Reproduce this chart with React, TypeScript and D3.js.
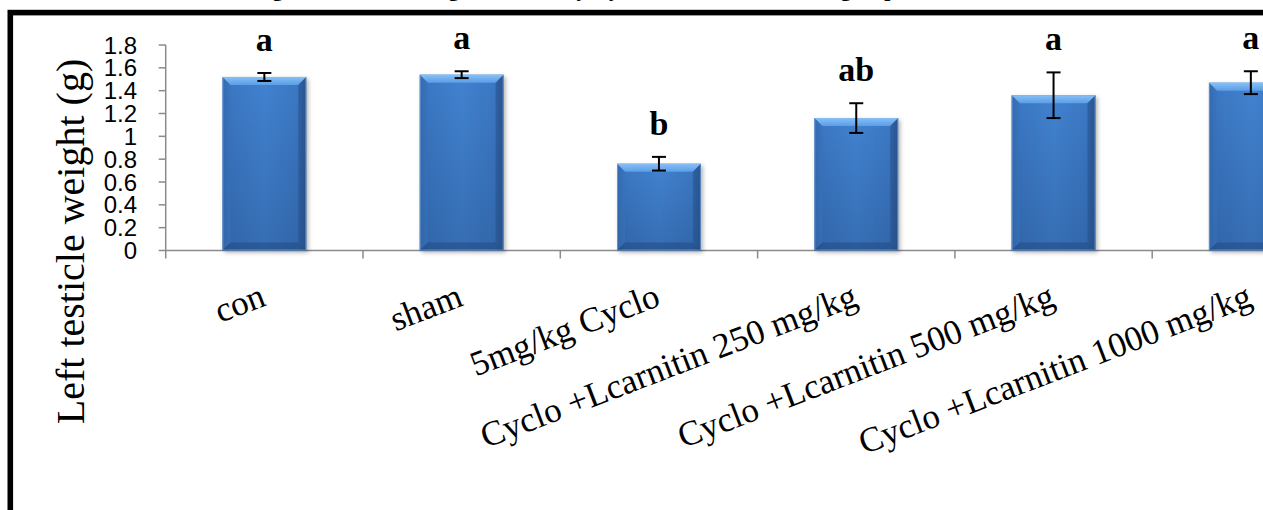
import React from "react";
import * as d3 from "d3";

// Group labels, means, standard errors and significance letters
const categories = [
  "con",
  "sham",
  "5mg/kg Cyclo",
  "Cyclo +Lcarnitin 250 mg/kg",
  "Cyclo +Lcarnitin 500 mg/kg",
  "Cyclo +Lcarnitin 1000 mg/kg",
];
const means = [1.52, 1.54, 0.76, 1.16, 1.36, 1.47];
const errors = [0.035, 0.03, 0.06, 0.13, 0.2, 0.1];
const letters = ["a", "a", "b", "ab", "a", "a"];
const yTicks = [0, 0.2, 0.4, 0.6, 0.8, 1, 1.2, 1.4, 1.6, 1.8];
const yTitle = "Left testicle weight (g)";
const figTitle = "Fig.: Left testicle weight affected by Cyclo and Lcarnitin in all groups";

const W = 1263;
const H = 510;
const plotLeft = 165.7;
const step = 197.3;
const y0 = 250.5;
const y18 = 45;

export default function App() {
  const x = d3
    .scaleBand<string>()
    .domain(categories)
    .range([plotLeft, plotLeft + step * categories.length])
    .paddingInner(0.575)
    .paddingOuter(0.2875);
  const y = d3.scaleLinear().domain([0, 1.8]).range([y0, y18]);
  const bw = x.bandwidth();
  const bev = 8;
  const gray = "#8a8a8a";
  const serif = "'Liberation Serif', 'Times New Roman', serif";

  return (
    <svg
      width={W}
      height={H}
      style={{ position: "absolute", left: 0, top: 0, background: "#fff" }}
    >
      <defs>
        <linearGradient id="barBody" x1="0" x2="1" y1="0" y2="0">
          <stop offset="0" stopColor="#2d5e9f" />
          <stop offset="0.1" stopColor="#3b78c4" />
          <stop offset="0.5" stopColor="#4282d0" />
          <stop offset="0.9" stopColor="#3b78c4" />
          <stop offset="1" stopColor="#2b5894" />
        </linearGradient>
        <linearGradient id="barShade" x1="0" x2="0" y1="0" y2="1">
          <stop offset="0" stopColor="#0a1e40" stopOpacity="0" />
          <stop offset="1" stopColor="#0a1e40" stopOpacity="0.2" />
        </linearGradient>
        <linearGradient id="barTop" x1="0" x2="0" y1="0" y2="1">
          <stop offset="0" stopColor="#86c0f6" />
          <stop offset="1" stopColor="#5c9de6" />
        </linearGradient>
        <filter id="shadow" x="-20%" y="-20%" width="140%" height="140%">
          <feDropShadow dx="2" dy="2" stdDeviation="2" floodColor="#000" floodOpacity="0.3" />
        </filter>
      </defs>

      {/* title line, mostly above the top edge */}
      <text
        x={905}
        y={-4}
        textAnchor="end"
        fontFamily={serif}
        fontWeight="bold"
        fontSize={22}
        fill="#000"
      >
        {figTitle}
      </text>

      {/* outer frame */}
      <rect x={10.3} y={12.6} width={W + 20} height={H + 20} fill="none" stroke="#000" strokeWidth={5.6} />

      {/* y axis */}
      <line x1={plotLeft} x2={plotLeft} y1={y18} y2={y0 + 8} stroke={gray} strokeWidth={1.5} />
      {yTicks.map((t) => (
        <g key={t}>
          <line x1={plotLeft - 7} x2={plotLeft} y1={y(t)} y2={y(t)} stroke={gray} strokeWidth={1.5} />
          <text
            x={137}
            y={y(t)}
            textAnchor="end"
            dominantBaseline="central"
            fontFamily="'Liberation Sans', Arial, sans-serif"
            fontSize={24}
            fill="#000"
          >
            {`${+t.toFixed(1)}`}
          </text>
        </g>
      ))}

      {/* x axis */}
      <line x1={plotLeft} x2={W} y1={y0} y2={y0} stroke={gray} strokeWidth={1.5} />
      {categories.map((c, i) => (
        <line
          key={c}
          x1={plotLeft + step * (i + 1)}
          x2={plotLeft + step * (i + 1)}
          y1={y0}
          y2={y0 + 8}
          stroke={gray}
          strokeWidth={1.5}
        />
      ))}

      {/* bars */}
      {categories.map((c, i) => {
        const x0 = x(c)!;
        const x1 = x0 + bw;
        const yt = y(means[i]);
        const yb = y0;
        return (
          <g key={c}>
            <g filter="url(#shadow)">
              <rect x={x0} y={yt} width={bw} height={yb - yt} fill="url(#barBody)" />
            </g>
            <rect x={x0} y={yt} width={bw} height={yb - yt} fill="url(#barShade)" />
            <polygon
              points={`${x0},${yt} ${x1},${yt} ${x1 - bev},${yt + bev} ${x0 + bev},${yt + bev}`}
              fill="url(#barTop)"
            />
            <polygon
              points={`${x0},${yt} ${x0 + bev},${yt + bev} ${x0 + bev},${yb - bev} ${x0},${yb}`}
              fill="#3a74bd"
              opacity={0.55}
            />
            <polygon
              points={`${x1},${yt} ${x1 - bev},${yt + bev} ${x1 - bev},${yb - bev} ${x1},${yb}`}
              fill="#28528c"
              opacity={0.55}
            />
            <polygon
              points={`${x0},${yb} ${x0 + bev},${yb - bev} ${x1 - bev},${yb - bev} ${x1},${yb}`}
              fill="#254d85"
              opacity={0.6}
            />
            <rect
              x={x0 + 0.5}
              y={yt + 0.5}
              width={bw - 1}
              height={yb - yt - 1}
              fill="none"
              stroke="#8cbcf0"
              strokeOpacity={0.5}
              strokeWidth={1}
            />
          </g>
        );
      })}

      {/* error bars */}
      {categories.map((c, i) => {
        const cx = x(c)! + bw / 2;
        const hi = y(means[i] + errors[i]);
        const lo = y(means[i] - errors[i]);
        return (
          <g key={c} stroke="#000" strokeWidth={2}>
            <line x1={cx} x2={cx} y1={hi} y2={lo} />
            <line x1={cx - 7} x2={cx + 7} y1={hi} y2={hi} />
            <line x1={cx - 7} x2={cx + 7} y1={lo} y2={lo} />
          </g>
        );
      })}

      {/* significance letters */}
      {categories.map((c, i) => (
        <text
          key={c}
          x={x(c)! + bw / 2}
          y={y(means[i] + errors[i]) - 22}
          textAnchor="middle"
          fontFamily={serif}
          fontWeight="bold"
          fontSize={34}
          fill="#000"
        >
          {letters[i]}
        </text>
      ))}

      {/* category labels */}
      {categories.map((c) => {
        const cx = x(c)! + bw / 2 + 3;
        const ly = 305;
        return (
          <text
            key={c}
            x={cx}
            y={ly}
            textAnchor="end"
            transform={`rotate(-21 ${cx} ${ly})`}
            fontFamily={serif}
            fontSize={35}
            fill="#000"
          >
            {c}
          </text>
        );
      })}

      {/* y axis title */}
      <text
        transform={`translate(84 241.5) rotate(-90)`}
        textAnchor="middle"
        fontFamily={serif}
        fontSize={40}
        fill="#000"
      >
        {yTitle}
      </text>
    </svg>
  );
}
